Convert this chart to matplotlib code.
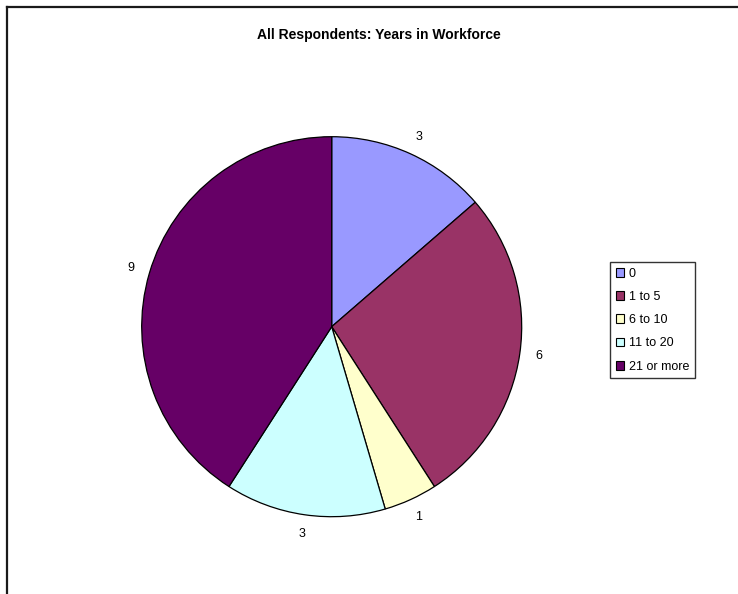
import matplotlib
matplotlib.use("Agg")
import matplotlib.pyplot as plt
from matplotlib.patches import Patch
from matplotlib.lines import Line2D

plt.rcParams['font.family'] = ['Liberation Sans', 'DejaVu Sans']

categories = ["0", "1 to 5", "6 to 10", "11 to 20", "21 or more"]
counts = [3, 6, 1, 3, 9]
colors = ["#9999FF", "#993366", "#FFFFCC", "#CCFFFF", "#660066"]

W, H = 738, 594
fig = plt.figure(figsize=(W / 100, H / 100), dpi=100)

# square axes, pie of radius 1 inside +-1.2 limits
cx, cy, r = 331.7, 326.7, 190.0
k = 1.2
side = 2 * r * k
ax = fig.add_axes([(cx - side / 2) / W, (H - cy - side / 2) / H, side / W, side / H])

wedges, texts = ax.pie(
    counts,
    labels=[str(c) for c in counts],
    colors=colors,
    startangle=90,
    counterclock=False,
    labeldistance=1.1,
    wedgeprops=dict(edgecolor="black", linewidth=0.9),
    textprops=dict(fontsize=9, ha="center", va="center"),
)
ax.set_xlim(-k, k)
ax.set_ylim(-k, k)
ax.set_aspect("equal")
ax.axis("off")

fig.text(378.5 / W, 1 - 35.5 / H, "All Respondents: Years in Workforce",
         ha="center", va="center", fontsize=10, fontweight="bold")

handles = [Patch(facecolor=c, edgecolor="black", linewidth=0.8) for c in colors]
leg = fig.legend(handles, categories, loc="upper left",
                 bbox_to_anchor=(610 / W, 1 - 262 / H), borderaxespad=0,
                 fontsize=9, frameon=True, fancybox=False, shadow=False,
                 handlelength=0.7, handleheight=0.7, handletextpad=0.35,
                 labelspacing=0.9, borderpad=0.45)
leg.get_frame().set_edgecolor("black")
leg.get_frame().set_linewidth(1.0)

# chart-area border: top and left edges
fig.add_artist(Line2D([7 / W, 1.0], [1 - 7 / H, 1 - 7 / H], color="#1a1a1a", linewidth=1.6))
fig.add_artist(Line2D([7 / W, 7 / W], [1 - 7 / H, 0.0], color="#1a1a1a", linewidth=1.6))

fig.savefig("out.png", dpi=100)
